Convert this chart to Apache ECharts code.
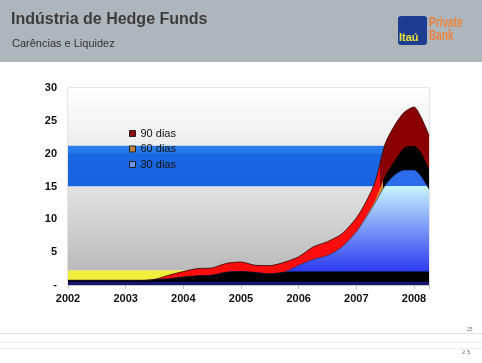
<!DOCTYPE html>
<html><head><meta charset="utf-8">
<script src="https://cdn.jsdelivr.net/npm/echarts@6/dist/echarts.min.js"></script>
<style>html,body{margin:0;padding:0;background:#fff}#c{width:482px;height:363px}</style>
</head><body><div id="c"></div>
<script>
// x positions (years)
const years = [2002, 2002.5, 2003, 2003.3, 2003.5, 2003.75, 2004, 2004.25, 2004.5, 2004.75, 2005, 2005.25, 2005.5, 2005.75, 2006, 2006.25, 2006.5, 2006.75, 2007, 2007.17, 2007.33, 2007.5, 2007.67, 2007.83, 2008, 2008.12, 2008.26];
// cumulative tops of each layer
const navyBase  = [0.45,0.45,0.45,0.45,0.45,0.45,0.45,0.45,0.45,0.45,0.45,0.45,0.45,0.45,0.45,0.45,0.45,0.45,0.45,0.45,0.45,0.45,0.45,0.45,0.45,0.45,0.45];
const blackBase = [0.7,0.7,0.7,0.7,0.8,0.95,1.2,1.4,1.5,1.95,2.05,1.9,1.7,1.95,2.0,2.0,2.0,2.0,2.0,2.0,2.0,2.0,2.0,2.0,2.0,2.0,2.0];
const dias30    = [0.7,0.7,0.7,0.7,0.8,0.95,1.2,1.4,1.5,1.95,2.05,1.9,1.7,1.95,3.0,3.9,4.5,5.8,8.1,10.3,12.6,15.2,16.8,17.5,17.5,16.6,14.6];
const dias60    = [0.7,0.7,0.7,0.7,0.8,0.95,1.2,1.4,1.5,1.95,2.05,1.9,1.7,1.95,3.0,3.9,4.5,5.8,8.1,10.5,13.0,16.6,19.0,20.9,21.2,20.2,17.6];
const dias90    = [0.7,0.7,0.7,0.7,0.85,1.5,2.05,2.5,2.6,3.3,3.5,3.0,2.95,3.45,4.3,5.8,6.6,7.8,10.2,12.7,15.8,21.5,24.4,26.3,27.1,25.6,22.8];
const yTicks = [0, 5, 10, 15, 20, 25, 30];
const legendNames = ['90 dias', '60 dias', '30 dias'];
const titleText = 'Indústria de Hedge Funds';
const subText = 'Carências e Liquidez';

const chart = echarts.init(document.getElementById('c'));
const G = echarts.graphic.LinearGradient;
const FONT = "'Liberation Sans', Arial, sans-serif";
const pts = arr => years.map((x, i) => [x, arr[i]]);
// pixel helpers for global gradients (grid top 88, bottom 285, 0..30)
const yPix = v => 285 - v * 197 / 30;
const H = 363;

const option = {
  animation: false,
  backgroundColor: '#fff',
  title: [
    { text: titleText, left: 6, top: 7, textStyle: { fontFamily: FONT, fontSize: 16, fontWeight: 'bold', color: '#3c3c3c' }, z: 10 },
    { text: subText, left: 7, top: 33, textStyle: { fontFamily: FONT, fontSize: 11, fontWeight: 'normal', color: '#333' }, z: 10 }
  ],
  graphic: [
    { type: 'rect', z: -10, shape: { x: 0, y: 0, width: 482, height: 62 }, style: { fill: '#aeb5bb' } },
    { type: 'rect', z: 5, shape: { x: 398, y: 16, width: 29, height: 29, r: 3 }, style: { fill: '#1d3d92' } },
    { type: 'text', z: 6, x: 399, y: 32, style: { text: 'Itaú', fill: '#f0e43a', font: "bold 11px 'Liberation Sans', Arial" } },
    { type: 'text', z: 6, x: 429, y: 16, scaleX: 0.72, style: { text: 'Private', fill: '#ec8440', font: "bold 14px 'Liberation Sans', Arial, sans-serif" } },
    { type: 'text', z: 6, x: 429, y: 29, scaleX: 0.72, style: { text: 'Bank', fill: '#ec8440', font: "bold 14px 'Liberation Sans', Arial, sans-serif" } },
    { type: 'line', z: 1, shape: { x1: 0, y1: 333.5, x2: 482, y2: 333.5 }, style: { stroke: '#e2e2e2', lineWidth: 1 } },
    { type: 'line', z: 1, shape: { x1: 0, y1: 342.5, x2: 482, y2: 342.5 }, style: { stroke: '#ececec', lineWidth: 1 } },
    { type: 'line', z: 1, shape: { x1: 0, y1: 348.5, x2: 482, y2: 348.5 }, style: { stroke: '#ececec', lineWidth: 1 } },
    { type: 'text', z: 2, x: 467, y: 327, style: { text: '25', fill: '#777', font: "5px 'Liberation Sans', Arial" } },
    { type: 'text', z: 2, x: 462, y: 349, style: { text: '2 5', fill: '#777', font: "6px 'Liberation Sans', Arial" } }
  ],
  legend: {
    orient: 'vertical', left: 124, top: 122, icon: 'rect', itemWidth: 6, itemHeight: 6, itemGap: 2.5,
    itemStyle: { borderColor: '#222', borderWidth: 1 },
    textStyle: { fontFamily: FONT, fontSize: 11, color: '#111', lineHeight: 13 },
    data: [
      { name: legendNames[0], itemStyle: { color: '#8c0a0a' } },
      { name: legendNames[1], itemStyle: { color: '#c08040' } },
      { name: legendNames[2], itemStyle: { color: '#6a90f0' } }
    ]
  },
  grid: { left: 68, right: 53, top: 88, bottom: 78, show: true, borderColor: '#c8c8c8', borderWidth: 1, backgroundColor: 'transparent' },
  xAxis: {
    type: 'value', min: 2002, max: 2008.26, interval: 1,
    splitLine: { show: false },
    axisLine: { show: true, lineStyle: { color: '#c8c8c8' } },
    axisTick: { show: true, length: 4, lineStyle: { color: '#c0c0c0' } },
    axisLabel: { formatter: v => Number.isInteger(v) ? String(v) : '', fontFamily: FONT, fontSize: 11, fontWeight: 'bold', color: '#111', margin: 8 }
  },
  yAxis: {
    type: 'value', min: yTicks[0], max: yTicks[yTicks.length - 1], interval: 5,
    splitLine: { show: false },
    axisLine: { show: true, lineStyle: { color: '#c8c8c8' } },
    axisTick: { show: false },
    axisLabel: { formatter: v => v === 0 ? '-' : String(v), fontFamily: FONT, fontSize: 11, fontWeight: 'bold', color: '#111', margin: 11 }
  },
  series: [
    {
      name: 'bands', type: 'line', data: [[2002, 0]], symbol: 'none', silent: true, z: 1,
      lineStyle: { width: 0, opacity: 0 },
      markArea: {
        silent: true,
        data: [
          [{ yAxis: 30, itemStyle: { color: new G(0, 0, 0, 1, [{ offset: 0, color: '#ffffff' }, { offset: 1, color: '#ededed' }]) } }, { yAxis: 21.2 }],
          [{ yAxis: 21.2, itemStyle: { color: new G(0, 0, 0, 1, [{ offset: 0, color: '#2c7eec' }, { offset: 0.17, color: '#2378ea' }, { offset: 0.2, color: '#1a68e2' }, { offset: 1, color: '#1962e0' }]) } }, { yAxis: 15 }],
          [{ yAxis: 15, itemStyle: { color: new G(0, 0, 0, 1, [{ offset: 0, color: '#e2e2e2' }, { offset: 1, color: '#bababa' }]) } }, { yAxis: 2.2 }],
          [{ yAxis: 2.2, itemStyle: { color: '#f0ef3c' } }, { yAxis: 0.7 }]
        ]
      }
    },
    {
      name: legendNames[0], type: 'line', data: pts(dias90), symbol: 'none', smooth: 0.25, z: 3,
      itemStyle: { color: '#8c0a0a' },
      lineStyle: { color: '#300000', width: 0.8 },
      areaStyle: { opacity: 1, color: new G(0, 0, 482, 0, [{ offset: 0, color: '#ff0c0c' }, { offset: 380 / 482, color: '#ff0c0c' }, { offset: 380 / 482, color: '#8a0000' }, { offset: 1, color: '#8a0000' }], true) }
    },
    {
      name: legendNames[1], type: 'line', data: pts(dias60), symbol: 'none', smooth: 0.25, z: 3,
      itemStyle: { color: '#c08040' },
      lineStyle: { width: 0 },
      areaStyle: { opacity: 1, color: new G(0, 0, 482, 0, [{ offset: 0, color: '#e08a2a' }, { offset: 383 / 482, color: '#e08a2a' }, { offset: 383 / 482, color: '#000000' }, { offset: 1, color: '#000000' }], true) }
    },
    {
      name: legendNames[2], type: 'line', data: pts(dias30), symbol: 'none', smooth: 0.25, z: 3,
      itemStyle: { color: '#6a90f0' },
      lineStyle: { color: '#1a1a50', width: 0.6 },
      areaStyle: { opacity: 1, color: new G(0, 0, 0, H, [
        { offset: 0, color: '#2e72ee' }, { offset: yPix(15) / H, color: '#2a6cec' },
        { offset: yPix(15) / H, color: '#c6f3ff' }, { offset: yPix(2) / H, color: '#2c3af0' }, { offset: 1, color: '#2c3af0' }], true) }
    },
    {
      name: 'preto', type: 'line', data: pts(blackBase), symbol: 'none', smooth: 0.25, z: 3,
      itemStyle: { color: '#000' }, lineStyle: { color: '#000', width: 0.5 },
      areaStyle: { opacity: 1, color: '#000' }
    },
    {
      name: 'base', type: 'line', data: pts(navyBase), symbol: 'none', z: 3,
      itemStyle: { color: '#16166e' }, lineStyle: { color: '#16166e', width: 0.5 },
      areaStyle: { opacity: 1, color: '#16166e' }
    }
  ]
};
chart.setOption(option);
</script></body></html>
